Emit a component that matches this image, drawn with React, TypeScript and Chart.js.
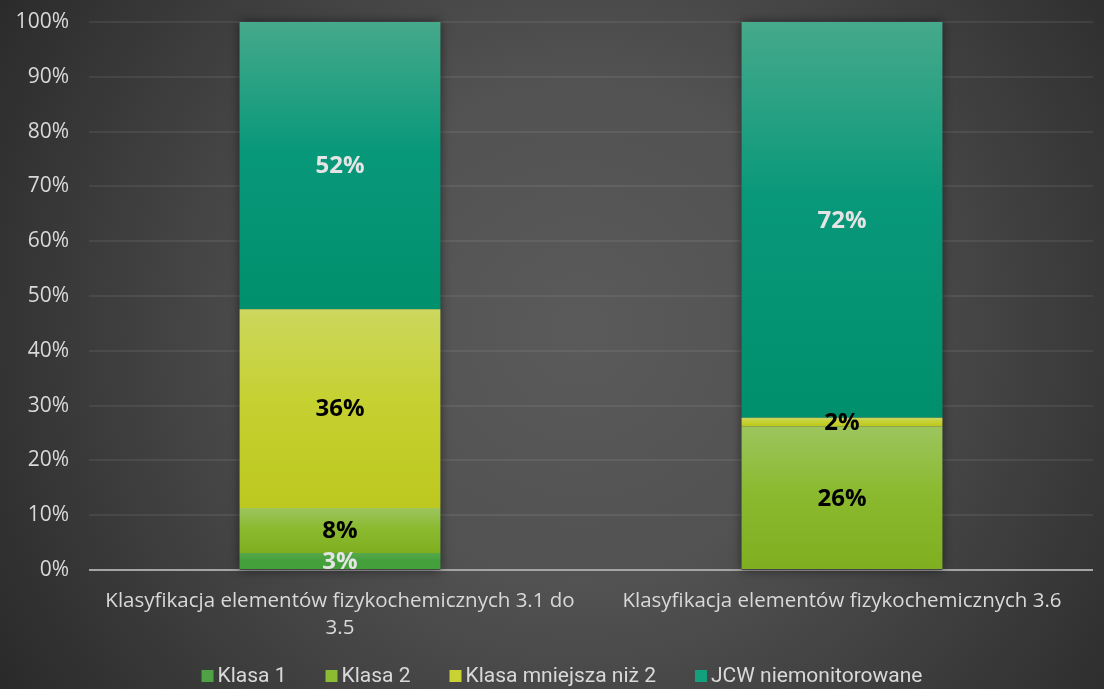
import React, { useEffect, useRef } from "react";
import { Chart, registerables } from "chart.js";

Chart.register(...registerables);

const categories: (string | string[])[] = [
  ["Klasyfikacja elementów fizykochemicznych 3.1 do", "3.5"],
  "Klasyfikacja elementów fizykochemicznych 3.6",
];
const seriesNames = ["Klasa 1", "Klasa 2", "Klasa mniejsza niż 2", "JCW niemonitorowane"];
const klasa1 = [3.1, 0];
const klasa2 = [8.2, 26.2];
const klasaMniejsza = [36.3, 1.6];
const jcwNiemonitorowane = [52.4, 72.2];
const yTickMax = 100;
const yTickStep = 10;

const legendColors = ["#4ea243", "#8cbd30", "#c8d233", "#13a07c"];
const gradientStops = [
  ["#55a84a", "#44a03b", "#42a03a"],
  ["#9cc55e", "#8bba30", "#7fae20"],
  ["#ccd75e", "#c6d132", "#bcc81e"],
  ["#46a98b", "#08987a", "#00906d"],
];
const labelColors = ["#e4e4e4", "#000000", "#000000", "#e4e4e4"];

const allSeries = [klasa1, klasa2, klasaMniejsza, jcwNiemonitorowane];

export default function App() {
  const ref = useRef<HTMLCanvasElement | null>(null);

  useEffect(() => {
    const canvas = ref.current;
    if (!canvas) return;

    const bgPlugin = {
      id: "bg",
      beforeDraw(chart: any) {
        const { ctx, width, height } = chart;
        ctx.save();
        const g = ctx.createRadialGradient(580, 330, 0, 580, 330, 720);
        g.addColorStop(0, "#5a5a5a");
        g.addColorStop(0.35, "#525252");
        g.addColorStop(1, "#262626");
        ctx.fillStyle = g;
        ctx.fillRect(0, 0, width, height);
        ctx.restore();
      },
    };

    const shadowPlugin = {
      id: "barShadow",
      beforeDatasetsDraw(chart: any) {
        const { ctx, scales } = chart;
        const meta = chart.getDatasetMeta(0);
        ctx.save();
        meta.data.forEach((el: any, i: number) => {
          const total = allSeries.reduce((s, arr) => s + arr[i], 0);
          const top = scales.y.getPixelForValue(total);
          const bottom = scales.y.getPixelForValue(0);
          const w = el.width;
          ctx.shadowColor = "rgba(0,0,0,0.55)";
          ctx.shadowBlur = 10;
          ctx.fillStyle = "#444";
          ctx.fillRect(el.x - w / 2, top, w, bottom - top);
        });
        ctx.restore();
      },
    };

    const labelPlugin = {
      id: "segLabels",
      afterDatasetsDraw(chart: any) {
        const { ctx } = chart;
        ctx.save();
        ctx.font = "bold 24px 'Open Sans'";
        ctx.textAlign = "center";
        ctx.textBaseline = "middle";
        chart.data.datasets.forEach((ds: any, d: number) => {
          const meta = chart.getDatasetMeta(d);
          meta.data.forEach((el: any, i: number) => {
            const v = ds.data[i];
            if (!v) return;
            const { x, y, base } = el.getProps(["x", "y", "base"], true);
            ctx.fillStyle = labelColors[d];
            ctx.fillText(Math.round(v) + "%", x, (y + base) / 2 + 1);
          });
        });
        ctx.restore();
      },
    };

    const legendPlugin = {
      id: "customLegend",
      afterDraw(chart: any) {
        const { ctx } = chart;
        ctx.save();
        ctx.font = "21px Roboto";
        ctx.textBaseline = "middle";
        const box = 12;
        const gapBox = 4;
        const gapItem = 39;
        const widths = seriesNames.map((n) => ctx.measureText(n).width);
        const total =
          widths.reduce((s, w) => s + w + box + gapBox, 0) + gapItem * (seriesNames.length - 1);
        let x = 562 - total / 2;
        const cy = 676;
        seriesNames.forEach((n, k) => {
          ctx.fillStyle = legendColors[k];
          ctx.fillRect(x, cy - box / 2, box, box);
          x += box + gapBox;
          ctx.fillStyle = "#d9d9d9";
          ctx.fillText(n, x, cy + 1);
          x += widths[k] + gapItem;
        });
        ctx.restore();
      },
    };

    const makeBg = (d: number) => (c: any) => {
      if (c.type !== "data") return legendColors[d];
      const chart = c.chart;
      const y = chart.scales?.y;
      if (!y || !chart.chartArea) return legendColors[d];
      const i = c.dataIndex;
      let start = 0;
      for (let k = 0; k < d; k++) start += allSeries[k][i];
      const end = start + allSeries[d][i];
      const yTop = y.getPixelForValue(end);
      const yBot = y.getPixelForValue(start);
      if (!isFinite(yTop) || !isFinite(yBot) || yBot - yTop < 0.5) return legendColors[d];
      const g = chart.ctx.createLinearGradient(0, yTop, 0, yBot);
      const s = gradientStops[d];
      g.addColorStop(0, s[0]);
      g.addColorStop(0.45, s[1]);
      g.addColorStop(1, s[2]);
      return g;
    };

    const chart = new Chart(canvas, {
      type: "bar",
      data: {
        labels: categories,
        datasets: allSeries.map((arr, d) => ({
          label: seriesNames[d],
          data: arr,
          backgroundColor: makeBg(d),
          borderWidth: 0,
          barPercentage: 0.4,
          categoryPercentage: 1,
        })),
      },
      options: {
        animation: false,
        responsive: true,
        maintainAspectRatio: false,
        layout: { padding: { top: 22, right: 11, left: 0, bottom: 44 } },
        plugins: {
          legend: { display: false },
          tooltip: { enabled: false },
        },
        scales: {
          x: {
            stacked: true,
            grid: { display: false, drawTicks: false },
            border: { display: false },
            ticks: {
              color: "#d9d9d9",
              font: { family: "'Open Sans'", size: 20.5, lineHeight: 1.32 },
              padding: 18,
              maxRotation: 0,
              autoSkip: false,
            },
            afterFit: (s: any) => {
              s.height = 75;
            },
          },
          y: {
            stacked: true,
            min: 0,
            max: yTickMax,
            ticks: {
              stepSize: yTickStep,
              color: "#d9d9d9",
              font: { family: "'Open Sans'", size: 21 },
              padding: 20,
              callback: (v: any) => v + "%",
            },
            grid: {
              drawTicks: false,
              color: (c: any) => (c.tick && c.tick.value === 0 ? "#a5a5a5" : "rgba(255,255,255,0.07)"),
              lineWidth: 2,
            },
            border: { display: false },
            afterFit: (s: any) => {
              s.width = 89;
              s.paddingTop = 0;
              s.paddingBottom = 0;
            },
          },
        },
      },
      plugins: [bgPlugin, shadowPlugin, labelPlugin, legendPlugin],
    });

    return () => chart.destroy();
  }, []);

  return (
    <div style={{ position: "fixed", left: 0, top: 0, width: 1104, height: 689 }}>
      <canvas ref={ref} />
    </div>
  );
}
